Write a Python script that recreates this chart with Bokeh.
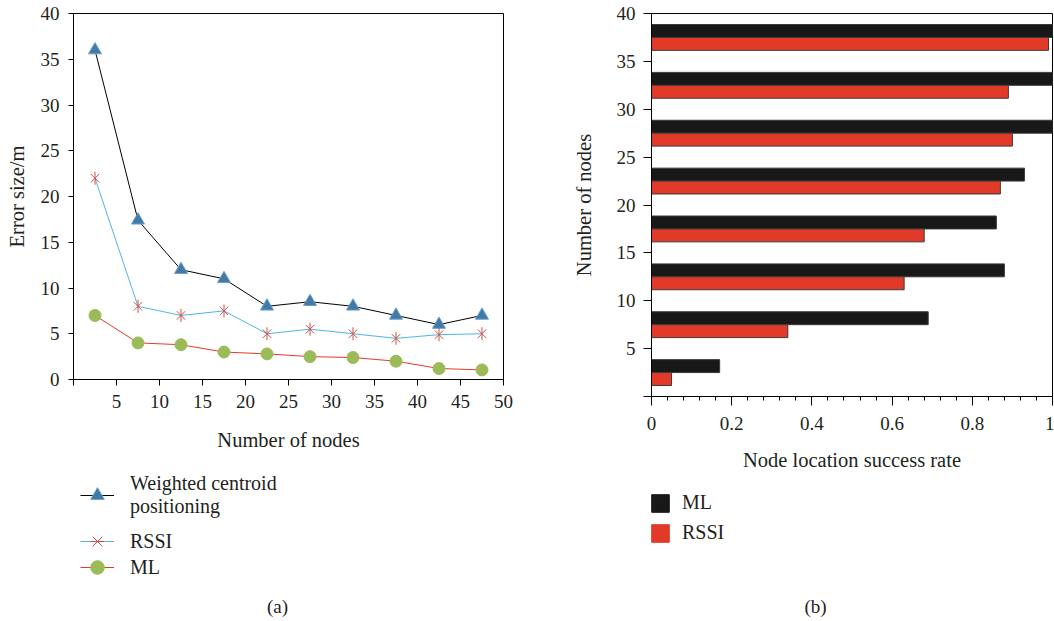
import numpy as np
from bokeh.plotting import figure
from bokeh.layouts import row, column
from bokeh.models import Range1d, FixedTicker, Legend, LegendItem, Label
from bokeh.embed import file_html
from bokeh.resources import INLINE

FONT = "Liberation Serif"
TXT = "#231f20"

# ---- data (a) ----
nodes_a = [2.5, 7.5, 12.5, 17.5, 22.5, 27.5, 32.5, 37.5, 42.5, 47.5]
weighted_err = [36, 17.4, 12, 11, 8, 8.5, 8, 7, 6, 7]
rssi_err = [22, 8, 7, 7.5, 5, 5.5, 5, 4.5, 4.9, 5]
ml_err = [7, 4, 3.8, 3, 2.8, 2.5, 2.4, 2, 1.2, 1.05]
xticks_a = [0, 5, 10, 15, 20, 25, 30, 35, 40, 45, 50]
yticks_a = [0, 5, 10, 15, 20, 25, 30, 35, 40]

# ---- data (b) ----
nodes_b = [2.5, 7.5, 12.5, 17.5, 22.5, 27.5, 32.5, 37.5]
ml_rate = [0.17, 0.69, 0.88, 0.86, 0.93, 1.0, 1.0, 1.0]
rssi_rate = [0.05, 0.34, 0.63, 0.68, 0.87, 0.90, 0.89, 0.99]
xticks_b = [0, 0.2, 0.4, 0.6, 0.8, 1.0]
xminor_b = [0.04, 0.08, 0.12, 0.16, 0.24, 0.28, 0.32, 0.36, 0.44, 0.48, 0.52, 0.56,
            0.64, 0.68, 0.72, 0.76, 0.84, 0.88, 0.92, 0.96]
yticks_b = [0, 5, 10, 15, 20, 25, 30, 35, 40]

# styles
W_STYLE = dict(fill_color="#3f7ba6", line_color="#6b9dca")
R_COLOR = "#c9504a"
M_FILL = "#9bbb59"
BAR_ML = "#181818"
BAR_RS = "#e23a28"


def style_axes(p):
    p.grid.visible = False
    p.outline_line_color = "black"
    p.outline_line_alpha = 1
    p.outline_line_width = 1
    for ax in p.axis:
        ax.axis_line_color = "black"
        ax.major_tick_line_color = "black"
        ax.minor_tick_line_color = "black"
        ax.major_tick_in = 0
        ax.minor_tick_in = 0
        ax.major_label_text_font = FONT
        ax.major_label_text_font_size = "19px"
        ax.major_label_text_color = TXT
        ax.axis_label_text_font = FONT
        ax.axis_label_text_font_size = "20.5px"
        ax.axis_label_text_font_style = "normal"
        ax.axis_label_text_color = TXT


def blank_fig(w, h):
    f = figure(width=w, height=h, x_range=Range1d(0, 1), y_range=Range1d(0, 1),
               output_backend="svg", toolbar_location=None,
               x_axis_location=None, y_axis_location=None,
               min_border=0, min_border_left=0, min_border_right=0,
               min_border_top=0, min_border_bottom=0)
    f.grid.visible = False
    f.outline_line_color = None
    return f


def make_legend(items, loc, gw, gh, standoff):
    return Legend(items=items, location=loc, border_line_color=None,
                  background_fill_alpha=0, padding=0, margin=0, spacing=0,
                  glyph_width=gw, glyph_height=gh, label_standoff=standoff,
                  label_text_font=FONT, label_text_font_size="20px",
                  label_text_color=TXT)


def caption(text, x, y):
    return Label(x=x, y=y, x_units="screen", y_units="screen", text=text,
                 text_font=FONT, text_font_size="19px", text_color=TXT,
                 text_align="center", text_baseline="middle")


# ================= (a) =================
pa = figure(width=560, height=460, x_range=Range1d(0, 50), y_range=Range1d(0, 40),
            output_backend="svg", toolbar_location=None,
            min_border_left=73, min_border_right=57, min_border_top=13,
            min_border_bottom=81)
pa.xaxis.ticker = FixedTicker(ticks=xticks_a, minor_ticks=[])
pa.yaxis.ticker = FixedTicker(ticks=yticks_a, minor_ticks=[])
pa.xaxis.major_label_overrides = {0: ""}
pa.xaxis.axis_label = "Number of nodes"
pa.yaxis.axis_label = "Error size/m"
style_axes(pa)
pa.xaxis.major_tick_out = 6
pa.yaxis.major_tick_out = 5
pa.xaxis.major_label_standoff = 9
pa.yaxis.major_label_standoff = 9
pa.xaxis.axis_label_standoff = 18
pa.yaxis.axis_label_standoff = 10

pa.line(nodes_a, weighted_err, line_color="black", line_width=1)
pa.scatter(nodes_a, weighted_err, marker="triangle", size=13, line_width=1, **W_STYLE)
pa.line(nodes_a, rssi_err, line_color="#4fb4e6", line_width=1)
pa.scatter(nodes_a, rssi_err, marker="x", size=12, line_color=R_COLOR, line_width=1)
pa.scatter(nodes_a, rssi_err, marker="dash", angle=np.pi / 2, size=13,
           line_color=R_COLOR, line_width=1)
pa.line(nodes_a, ml_err, line_color="#e8392b", line_width=1)
pa.scatter(nodes_a, ml_err, marker="circle", size=12, fill_color=M_FILL, line_color=M_FILL)

# legend panel (a)  (frame aligned with the chart: left edge at x=73)
la = blank_fig(560, 161)
off = [-100]
lw1 = la.line(off, off, line_color="black", line_width=1)
lw2 = la.scatter(off, off, marker="triangle", line_width=1, **W_STYLE)
lr1 = la.line(off, off, line_color="#4fb4e6", line_width=1)
lr2 = la.scatter(off, off, marker="x", line_color=R_COLOR, line_width=1)
lr3 = la.scatter(off, off, marker="dash", angle=np.pi / 2, line_color=R_COLOR, line_width=1)
lm1 = la.line(off, off, line_color="#e8392b", line_width=1)
lm2 = la.scatter(off, off, marker="circle", fill_color=M_FILL, line_color=M_FILL)

la.add_layout(make_legend([LegendItem(label="Weighted centroid\npositioning",
                                      renderers=[lw1, lw2])], (7, 103), 34, 36, 16))
la.add_layout(make_legend([LegendItem(label="RSSI", renderers=[lr1, lr2, lr3])],
                          (7, 62), 34, 36, 16))
la.add_layout(make_legend([LegendItem(label="ML", renderers=[lm1, lm2])],
                          (7, 36), 34, 36, 16))
la.add_layout(caption("(a)", 204, 15))

# ================= (b) =================
pb = figure(width=494, height=480, x_range=Range1d(0, 1), y_range=Range1d(0, 40),
            output_backend="svg", toolbar_location=None,
            min_border_left=91, min_border_right=2, min_border_top=13,
            min_border_bottom=84)
pb.xaxis.ticker = FixedTicker(ticks=xticks_b, minor_ticks=xminor_b)
pb.yaxis.ticker = FixedTicker(ticks=yticks_b, minor_ticks=[])
pb.yaxis.major_label_overrides = {0: ""}
pb.xaxis.major_label_overrides = {0: "0", 1: "1"}
pb.xaxis.axis_label = "Node location success rate"
pb.yaxis.axis_label = "Number of nodes"
style_axes(pb)
pb.xaxis.major_tick_out = 9
pb.xaxis.minor_tick_out = 4
pb.yaxis.major_tick_out = 8
pb.xaxis.major_label_standoff = 11
pb.yaxis.major_label_standoff = 8
pb.xaxis.axis_label_standoff = 16
pb.yaxis.axis_label_standoff = 19

bar_h = 1.35
ml_y = [v + bar_h / 2 for v in nodes_b]
rs_y = [v - bar_h / 2 for v in nodes_b]
pb.hbar(y=ml_y, right=ml_rate, left=0, height=bar_h,
        fill_color=BAR_ML, line_color="#3a3a3a", line_width=1)
pb.hbar(y=rs_y, right=rssi_rate, left=0, height=bar_h,
        fill_color=BAR_RS, line_color="#3a3a3a", line_width=1)

# legend panel (b)  (frame aligned with the chart: left edge at x=651)
lb = blank_fig(494, 141)
lb1 = lb.hbar(y=off, right=off, left=off, height=1, fill_color=BAR_ML, line_color=BAR_ML)
lb2 = lb.hbar(y=off, right=off, left=off, height=1, fill_color=BAR_RS, line_color=BAR_RS)
lb.add_layout(make_legend([LegendItem(label="ML", renderers=[lb1])], (-2, 107), 22, 22, 11))
lb.add_layout(make_legend([LegendItem(label="RSSI", renderers=[lb2])], (-2, 77), 22, 22, 11))
lb.add_layout(caption("(b)", 164, 15))

p = row(column(pa, la), column(pb, lb))
open("out.html", "w").write(file_html(p, INLINE))
